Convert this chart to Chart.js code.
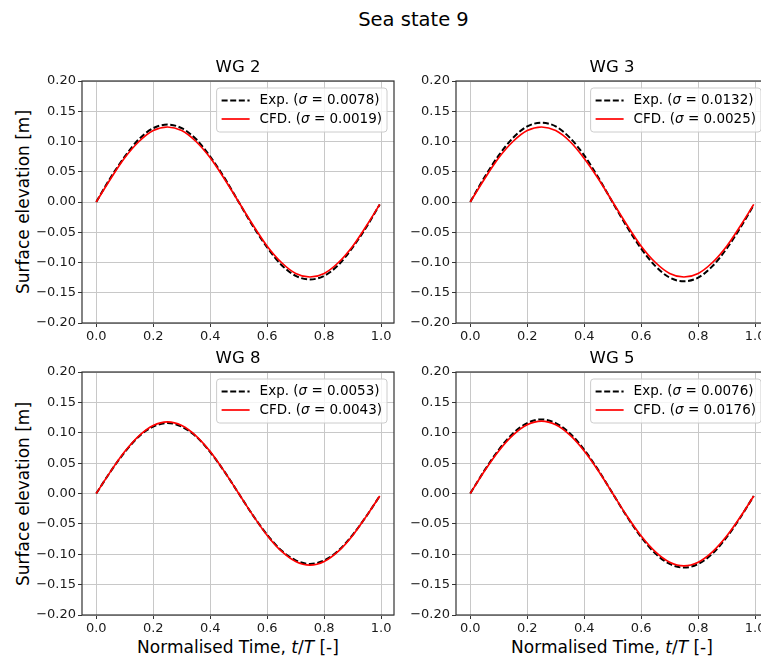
<!DOCTYPE html>
<html>
<head>
<meta charset="utf-8">
<script src="https://cdn.jsdelivr.net/npm/chart.js@4.4.0/dist/chart.umd.min.js"></script>
<style>
  body { margin: 0; width: 761px; height: 659px; overflow: hidden; background: #fff; position: relative; font-family: "DejaVu Sans", sans-serif; }
  canvas { position: absolute; }
  .lbl { position: absolute; color: #000; white-space: nowrap; transform: translate(-50%, -50%); }
  .rot { transform: translate(-50%, -50%) rotate(-90deg); }
</style>
</head>
<body>
<div class="lbl" style="left:413.5px; top:18.5px; font-size:19.5px;">Sea state 9</div>
<div class="lbl rot" style="left:23px; top:202px; font-size:17px;">Surface elevation [m]</div>
<div class="lbl rot" style="left:23px; top:493.5px; font-size:17px;">Surface elevation [m]</div>
<div class="lbl" style="left:238px; top:647px; font-size:17px;">Normalised Time, <i>t</i>/<i>T</i> [-]</div>
<div class="lbl" style="left:612px; top:647px; font-size:17px;">Normalised Time, <i>t</i>/<i>T</i> [-]</div>

<canvas id="wg2" width="398" height="305" style="left:0px; top:45px;"></canvas>
<canvas id="wg3" width="392" height="305" style="left:380px; top:45px;"></canvas>
<canvas id="wg8" width="398" height="306" style="left:0px; top:336px;"></canvas>
<canvas id="wg5" width="392" height="306" style="left:380px; top:336px;"></canvas>

<script>
// ---------- data ----------
const times = [0, 0.05, 0.10, 0.15, 0.20, 0.25, 0.30, 0.35, 0.40, 0.45, 0.50,
               0.55, 0.60, 0.65, 0.70, 0.75, 0.80, 0.85, 0.90, 0.95, 0.995];

const wg2Exp = [0, 0.040, 0.075, 0.104, 0.122, 0.128, 0.122, 0.104, 0.075, 0.040, 0.000,
                -0.040, -0.075, -0.104, -0.122, -0.128, -0.122, -0.104, -0.075, -0.040, -0.004];
const wg2Cfd = [0, 0.038, 0.073, 0.100, 0.118, 0.124, 0.118, 0.100, 0.073, 0.038, 0.000,
                -0.038, -0.073, -0.100, -0.118, -0.124, -0.118, -0.100, -0.073, -0.038, -0.004];
const wg3Exp = [0, 0.041, 0.077, 0.106, 0.125, 0.131, 0.125, 0.106, 0.077, 0.040, -0.001,
                -0.041, -0.077, -0.106, -0.125, -0.131, -0.125, -0.106, -0.077, -0.041, -0.005];
const wg3Cfd = [0, 0.038, 0.073, 0.100, 0.118, 0.124, 0.118, 0.100, 0.072, 0.038, 0.000,
                -0.038, -0.073, -0.100, -0.118, -0.124, -0.118, -0.100, -0.073, -0.038, -0.004];
const wg8Exp = [0, 0.036, 0.068, 0.094, 0.110, 0.116, 0.110, 0.094, 0.068, 0.036, 0.000,
                -0.036, -0.068, -0.094, -0.110, -0.116, -0.110, -0.094, -0.068, -0.036, -0.004];
const wg8Cfd = [0, 0.036, 0.069, 0.095, 0.112, 0.118, 0.112, 0.095, 0.069, 0.036, 0.000,
                -0.036, -0.069, -0.095, -0.112, -0.118, -0.112, -0.095, -0.069, -0.036, -0.004];
const wg5Exp = [0, 0.038, 0.072, 0.099, 0.116, 0.122, 0.116, 0.099, 0.072, 0.038, 0.000,
                -0.038, -0.072, -0.099, -0.116, -0.122, -0.116, -0.099, -0.072, -0.038, -0.004];
const wg5Cfd = [0, 0.037, 0.070, 0.096, 0.113, 0.119, 0.113, 0.096, 0.070, 0.037, 0.000,
                -0.037, -0.070, -0.096, -0.113, -0.119, -0.113, -0.096, -0.070, -0.037, -0.004];

const panelTitles = ['WG 2', 'WG 3', 'WG 8', 'WG 5'];
const expSigma = [0.0078, 0.0132, 0.0053, 0.0076];
const cfdSigma = [0.0019, 0.0025, 0.0043, 0.0176];

const xTicks = [0, 0.2, 0.4, 0.6, 0.8, 1.0];
const yTicks = [-0.20, -0.15, -0.10, -0.05, 0.00, 0.05, 0.10, 0.15, 0.20];

// ---------- style ----------
const FONT = '"DejaVu Sans", sans-serif';

// frame round the plot area + matplotlib style legend in the upper right
const frameLegend = {
    id: 'frameLegend',
    afterDraw(chart) {
        const ctx = chart.ctx;
        const a = chart.chartArea;
        ctx.save();
        ctx.strokeStyle = '#333';
        ctx.lineWidth = 1.2;
        ctx.strokeRect(a.left, a.top, a.right - a.left, a.bottom - a.top);

        const fs = 13.5;
        const normal = fs + 'px ' + FONT;
        const italic = 'italic ' + fs + 'px ' + FONT;
        const rows = [chart.data.datasets[0], chart.data.datasets[1]].map(ds => {
            const parts = [
                { t: ds.label + ' (', f: normal },
                { t: '\u03c3', f: italic },
                { t: ' = ' + ds.sigma.toFixed(4) + ')', f: normal }
            ];
            let w = 0;
            parts.forEach(p => { ctx.font = p.f; p.w = ctx.measureText(p.t).width; w += p.w; });
            return { ds, parts, w };
        });
        const textW = Math.max(...rows.map(r => r.w));
        const pad = 5, handleLen = 28, gap = 10;
        const w = pad + handleLen + gap + textW + pad;
        const h = 44;
        const x0 = a.right - 7 - w, y0 = a.top + 7;

        ctx.beginPath();
        ctx.roundRect(x0, y0, w, h, 3);
        ctx.fillStyle = 'rgba(255,255,255,0.8)';
        ctx.fill();
        ctx.strokeStyle = '#cccccc';
        ctx.lineWidth = 1;
        ctx.stroke();

        rows.forEach((r, i) => {
            const y = y0 + 12.5 + i * 18.5;
            ctx.beginPath();
            ctx.setLineDash(r.ds.borderDash || []);
            ctx.strokeStyle = r.ds.borderColor;
            ctx.lineWidth = r.ds.borderWidth;
            ctx.moveTo(x0 + pad, y);
            ctx.lineTo(x0 + pad + handleLen, y);
            ctx.stroke();
            ctx.setLineDash([]);
            let x = x0 + pad + handleLen + gap;
            ctx.fillStyle = '#000';
            ctx.textBaseline = 'middle';
            r.parts.forEach(p => { ctx.font = p.f; ctx.fillText(p.t, x, y); x += p.w; });
        });
        ctx.restore();
    }
};

function makePanel(id, idx, exp, cfd, yWidth) {
    new Chart(document.getElementById(id), {
        type: 'line',
        data: {
            datasets: [{
                label: 'Exp.',
                sigma: expSigma[idx],
                data: times.map((t, i) => ({ x: t, y: exp[i] })),
                borderColor: '#000000',
                borderDash: [6, 2.6],
                borderWidth: 2,
                pointRadius: 0,
                cubicInterpolationMode: 'monotone',
                order: 2
            }, {
                label: 'CFD.',
                sigma: cfdSigma[idx],
                data: times.map((t, i) => ({ x: t, y: cfd[i] })),
                borderColor: '#ff0000',
                borderWidth: 1.7,
                pointRadius: 0,
                cubicInterpolationMode: 'monotone',
                order: 1
            }]
        },
        options: {
            responsive: false,
            animation: false,
            layout: { padding: { left: 0, right: 4, top: 0, bottom: 0 } },
            plugins: {
                legend: { display: false },
                tooltip: { enabled: false },
                title: {
                    display: true,
                    fullSize: false,
                    text: panelTitles[idx],
                    color: '#000',
                    font: { family: FONT, size: 16.5, weight: 'normal' },
                    padding: { top: 13, bottom: 3.2 }
                }
            },
            scales: {
                x: {
                    type: 'linear',
                    min: -0.05,
                    max: 1.045,
                    afterBuildTicks: s => { s.ticks = xTicks.map(v => ({ value: v })); },
                    afterFit: s => { s.height = 27; },
                    ticks: {
                        callback: v => v.toFixed(1),
                        font: { family: FONT, size: 13 },
                        color: '#1a1a1a',
                        padding: 2,
                        maxRotation: 0,
                        autoSkip: false
                    },
                    grid: { color: '#c8c8c8', lineWidth: 1, tickLength: 4, tickColor: '#333' },
                    border: { display: false }
                },
                y: {
                    type: 'linear',
                    min: -0.2,
                    max: 0.2,
                    afterBuildTicks: s => { s.ticks = yTicks.map(v => ({ value: v })); },
                    afterFit: s => { s.width = yWidth; },
                    ticks: {
                        callback: v => (v < 0 ? '\u2212' : '') + Math.abs(v).toFixed(2),
                        font: { family: FONT, size: 13 },
                        color: '#1a1a1a',
                        padding: 2,
                        autoSkip: false
                    },
                    grid: { color: '#c8c8c8', lineWidth: 1, tickLength: 4, tickColor: '#333' },
                    border: { display: false }
                }
            }
        },
        plugins: [frameLegend]
    });
}

makePanel('wg2', 0, wg2Exp, wg2Cfd, 82);
makePanel('wg3', 1, wg3Exp, wg3Cfd, 76);
makePanel('wg8', 2, wg8Exp, wg8Cfd, 82);
makePanel('wg5', 3, wg5Exp, wg5Cfd, 76);
</script>
</body>
</html>
